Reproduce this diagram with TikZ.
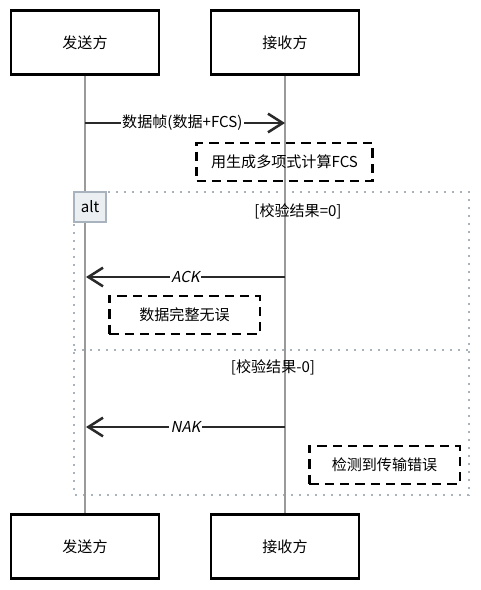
\documentclass[tikz,border=0pt]{standalone}
\usepackage{fontspec}
\setmainfont{Noto Sans CJK SC}
\newfontfamily\slantfont[FakeSlant=0.2]{Noto Sans CJK SC}
\usetikzlibrary{arrows.meta}
\definecolor{framegray}{HTML}{A9B3BD}
\definecolor{altfill}{HTML}{ECEFF1}
\definecolor{lifegray}{HTML}{9A9A9A}
\definecolor{msgcol}{HTML}{2A2A2A}
\begin{document}
\begin{tikzpicture}[x=0.75pt,y=-0.75pt,
  font=\fontsize{11.3}{13}\selectfont,
  actor/.style={draw=black, line width=1.6pt, fill=white, minimum width=111pt, minimum height=48pt, inner sep=0pt},
  lifeline/.style={draw=lifegray, line width=1.1pt},
  msg/.style={draw=msgcol, line width=1.9pt, -{Straight Barb[length=11pt,width=14pt,line width=1.9pt]}},
  msglabel/.style={fill=white, inner sep=1pt},
  notebox/.style={draw=black, line width=2pt, dash pattern=on 7pt off 4.5pt, minimum height=28.5pt, inner sep=0pt},
  altframe/.style={draw=framegray, line width=1.5pt, dash pattern=on 1.5pt off 4.5pt},
  altlabel/.style={draw=framegray, fill=altfill, line width=1.1pt, minimum width=24pt, minimum height=22.5pt, inner sep=0pt},
  guard/.style={inner sep=1pt}
]
\useasboundingbox (0,0) rectangle (480,590);

% alt frame
\draw[altframe] (74,192) rectangle (469,495);
\coordinate (sepL) at (74,350);
\coordinate (sepR) at (469,350);
\draw[altframe] (sepL) -- (sepR);

% actors
\node[actor] (s1) at (85,42.5) {发送方};
\node[actor] (r1) at (285,42.5) {接收方};
\node[actor] (s2) at (85,546.5) {发送方};
\node[actor] (r2) at (285,546.5) {接收方};

% lifelines
\draw[lifeline] (s1.south) -- (s2.north);
\draw[lifeline] (r1.south) -- (r2.north);

% alt label and guards
\node[altlabel] (alt) at (90,207) {alt};
\node[guard] (g1) at (298,211) {[校验结果=0]};
\node[guard] (g2) at (273,367) {[校验结果-0]};

% message 1
\coordinate (m1s) at (85,123);
\coordinate (m1r) at (285,123);
\draw[msg] (m1s) -- node[msglabel, xshift=-2pt] (l1) {数据帧(数据+FCS)} (m1r);

% note 1
\node[notebox, minimum width=132pt] (n1) at (284.5,162) {用生成多项式计算FCS};

% ACK
\coordinate (a1r) at (285,277);
\coordinate (a1s) at (86,277);
\draw[msg] (a1r) -- node[msglabel] (l2) {\slantfont ACK} (a1s);

% note 2
\node[notebox, minimum width=113pt] (n2) at (184.5,315) {数据完整无误};

% NAK
\coordinate (a2r) at (285,427);
\coordinate (a2s) at (86,427);
\draw[msg] (a2r) -- node[msglabel] (l3) {\slantfont NAK} (a2s);

% note 3
\node[notebox, minimum width=113pt] (n3) at (384.5,465) {检测到传输错误};
\end{tikzpicture}
\end{document}
